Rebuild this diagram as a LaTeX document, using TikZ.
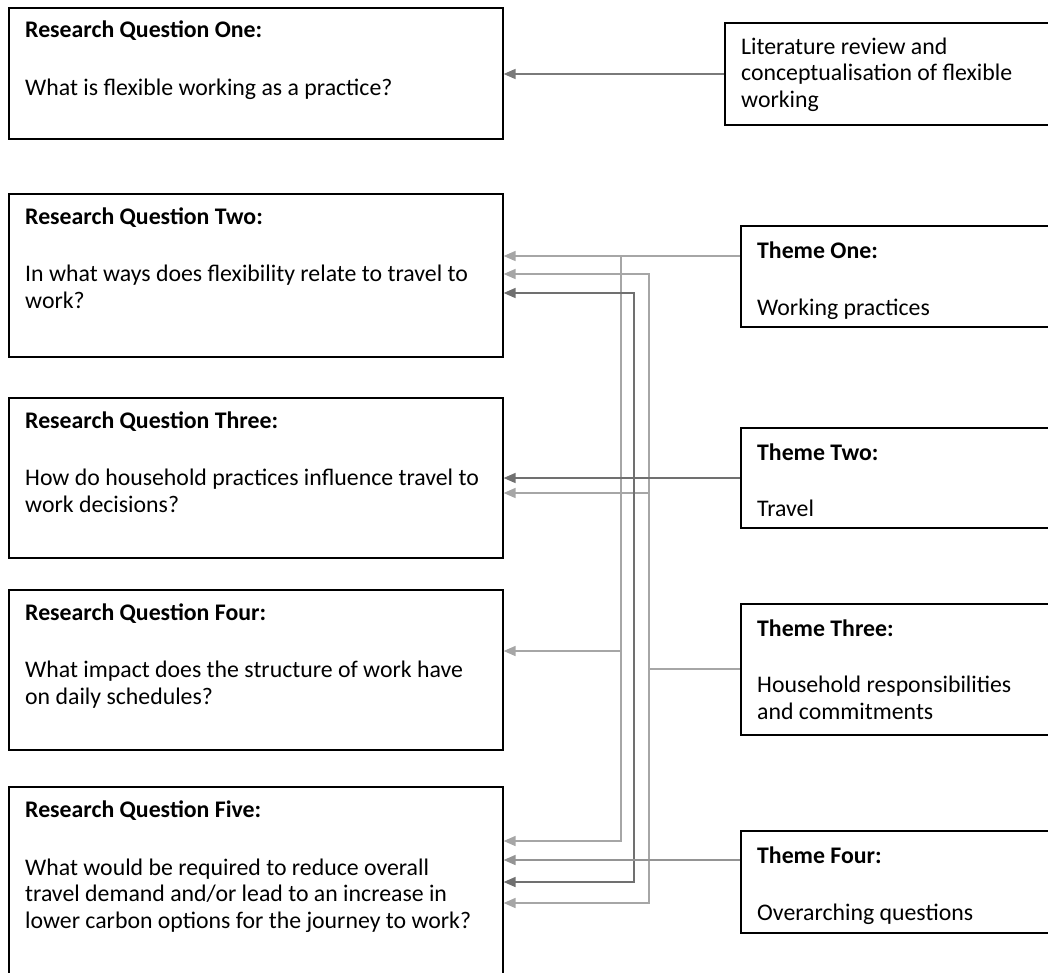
\documentclass[tikz,border=0pt]{standalone}
\usepackage{fontspec}
\setmainfont{Carlito}
\usetikzlibrary{arrows.meta}
\definecolor{ltgray}{HTML}{A6A6A6}
\definecolor{dkgray}{HTML}{707070}
\definecolor{mdgray}{HTML}{949494}
\definecolor{topgray}{HTML}{7A7A7A}
\begin{document}
\begin{tikzpicture}[x=1pt,y=-1pt,
  boxq/.style={draw=black,line width=1.6pt,anchor=north west,inner sep=0pt,minimum width=494pt},
  boxt/.style={draw=black,line width=1.6pt,anchor=north west,inner sep=0pt,minimum width=330pt},
  head/.style={font=\fontsize{23.8}{26.5}\selectfont\bfseries,anchor=base west,inner sep=0pt},
  body/.style={font=\fontsize{23.8}{26.5}\selectfont,anchor=base west,inner sep=0pt,align=left},
  conn/.style={line width=1.6pt,-{Triangle[length=12pt,width=10pt]}},
  plain/.style={line width=1.6pt}]
\useasboundingbox (0,0) rectangle (1048,972);
\clip (0,0) rectangle (1048,972);
% left boxes (multi-line body nodes are placed at their last baseline)
\node[boxq,minimum height=131pt] (q1) at (8,7) {};
\node[head] (q1h) at (25,37) {Research Question One:};
\node[body] (q1b) at (25,95) {What is flexible working as a practice?};
\node[boxq,minimum height=163pt] (q2) at (8,193) {};
\node[head] (q2h) at (25,224) {Research Question Two:};
\node[body] (q2b) at (25,308) {In what ways does flexibility relate to travel to\\work?};
\node[boxq,minimum height=160pt] (q3) at (8,397) {};
\node[head] (q3h) at (25,428) {Research Question Three:};
\node[body] (q3b) at (25,512) {How do household practices influence travel to\\work decisions?};
\node[boxq,minimum height=160pt] (q4) at (8,589) {};
\node[head] (q4h) at (25,620) {Research Question Four:};
\node[body] (q4b) at (25,704) {What impact does the structure of work have\\on daily schedules?};
\node[boxq,minimum height=200pt] (q5) at (8,786) {};
\node[head] (q5h) at (25,817) {Research Question Five:};
\node[body] (q5b) at (25,928) {What would be required to reduce overall\\travel demand and/or lead to an increase in\\lower carbon options for the journey to work?};
% right boxes
\node[boxt,minimum height=102pt] (lit) at (724,22) {};
\node[body] (litb) at (741,107) {Literature review and\\conceptualisation of flexible\\working};
\node[boxt,minimum height=101pt] (t1) at (740,225) {};
\node[head] (t1h) at (757,258) {Theme One:};
\node[body] (t1b) at (757,315) {Working practices};
\node[boxt,minimum height=100pt] (t2) at (740,427) {};
\node[head] (t2h) at (757,460) {Theme Two:};
\node[body] (t2b) at (757,516) {Travel};
\node[boxt,minimum height=131pt] (t3) at (740,603) {};
\node[head] (t3h) at (757,636) {Theme Three:};
\node[body] (t3b) at (757,719) {Household responsibilities\\and commitments};
\node[boxt,minimum height=102pt] (t4) at (740,830) {};
\node[head] (t4h) at (757,863) {Theme Four:};
\node[body] (t4b) at (757,920) {Overarching questions};
% junction coordinates
\coordinate (a0) at (613,74);
\coordinate (a1) at (621,256);
\coordinate (a2) at (621,651);
\coordinate (a3) at (621,841);
\coordinate (c1) at (649,274);
\coordinate (c2) at (649,493);
\coordinate (c3) at (649,669);
\coordinate (c4) at (649,903);
\coordinate (b1) at (634,293);
\coordinate (b2) at (634,478);
\coordinate (b3) at (634,882);
\coordinate (d1) at (700,860);
% literature review
\draw[conn,topgray] (lit.west |- a0) -- (q1.east |- a0);
% theme one (light)
\draw[conn,ltgray] (t1.west |- a1) -- (q2.east |- a1);
\draw[conn,ltgray] (a1) -- (a2) -- (q4.east |- a2);
\draw[conn,ltgray] (a2) -- (a3) -- (q5.east |- a3);
% theme three (light)
\draw[plain,ltgray] (t3.west |- c3) -- (c3);
\draw[conn,ltgray] (c3) -- (c2) -- (c1) -- (q2.east |- c1);
\draw[conn,ltgray] (c2) -- (q3.east |- c2);
\draw[conn,ltgray] (c3) -- (c4) -- (q5.east |- c4);
% theme two (dark)
\draw[conn,dkgray] (t2.west |- b2) -- (q3.east |- b2);
\draw[conn,dkgray] (b2) -- (b1) -- (q2.east |- b1);
\draw[conn,dkgray] (b2) -- (b3) -- (q5.east |- b3);
% theme four
\draw[conn,mdgray] (t4.west |- d1) -- (q5.east |- d1);
\end{tikzpicture}
\end{document}
